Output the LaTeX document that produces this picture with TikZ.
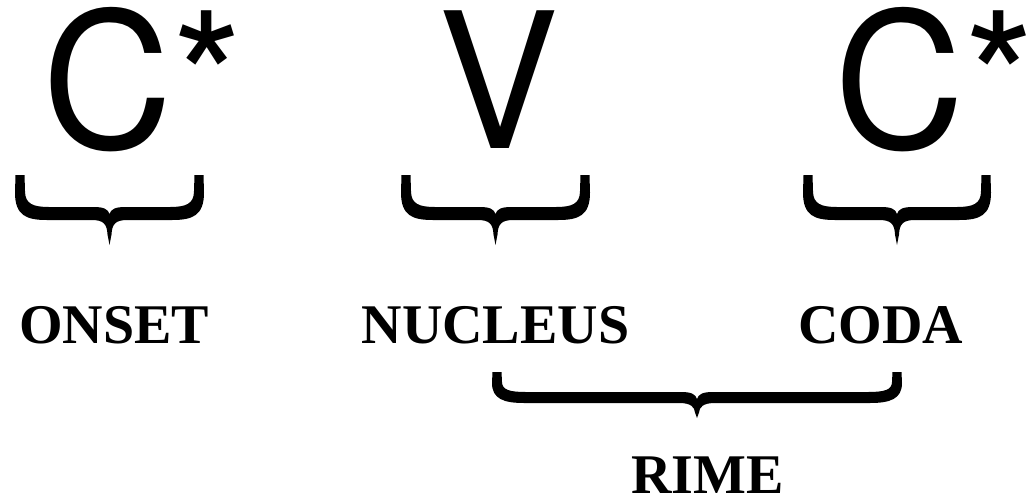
\documentclass[tikz,border=0pt]{standalone}
\usepackage{fontspec}
\setmainfont{Liberation Serif}
\newfontfamily\bigsans{TeX Gyre Heros}
\tikzset{
  big/.style={font=\bigsans\fontsize{189}{189}\selectfont, inner sep=0pt, anchor=base west, xscale=0.955},
  lab/.style={font=\fontsize{56}{56}\selectfont\bfseries, inner sep=0pt, anchor=base},
}
% #1 left x, #2 top y, #3 width, #4 band top, #5 band bottom, #6 tip depth
\newcommand{\mybrace}[6]{%
  \pgfmathsetmacro\bh{#3/2}%
  \fill[shift={(#1,#2)}] (0.5,0) -- (9.5,0) -- (10,{#4*0.5})
    .. controls (10,{#4*0.9}) and (18,#4) .. (34,#4)
    -- ({\bh-16},#4) .. controls ({\bh-6},#4) and ({\bh-1.5},{#4+2}) .. (\bh,{#4+7})
    .. controls ({\bh+1.5},{#4+2}) and ({\bh+6},#4) .. ({\bh+16},#4)
    -- ({#3-34},#4) .. controls ({#3-18},#4) and ({#3-10},{#4*0.9}) .. ({#3-10},{#4*0.5})
    -- ({#3-9.5},0) -- ({#3-0.5},0) -- (#3,{#4*0.55})
    .. controls (#3,{#5-4}) and ({#3-12},#5) .. ({#3-32},#5)
    -- ({\bh+18},#5) .. controls ({\bh+6},#5) and ({\bh+2.5},{#5+4}) .. ({\bh+2},{(#5+#6)/2+2})
    -- (\bh,#6) -- ({\bh-2},{(#5+#6)/2+2})
    .. controls ({\bh-2.5},{#5+4}) and ({\bh-6},#5) .. ({\bh-18},#5)
    -- (32,#5) .. controls (12,#5) and (0,{#5-4}) .. (0,{#4*0.55}) -- cycle;
}
\begin{document}
\begin{tikzpicture}[x=1pt,y=-1pt]
\useasboundingbox (0,0) rectangle (1028,498);
% big symbols
\node[big] (c1) at (42,148) {C*};
\node[big] (v)  at (438,148) {V};
\node[big] (c2) at (834,148) {C*};
% braces
\mybrace{15}{175}{189}{32}{45}{70}
\mybrace{401}{175}{189}{32}{45}{70}
\mybrace{803}{175}{188}{32}{45}{70}
\mybrace{492}{372}{410}{20}{31}{46}
% labels
\node[lab] (onset)   at (114,343)   {ONSET};
\node[lab] (nucleus) at (495.5,343) {NUCLEUS};
\node[lab] (coda)    at (881,343)   {CODA};
\node[lab] (rime)    at (707.5,493) {RIME};
\end{tikzpicture}
\end{document}
